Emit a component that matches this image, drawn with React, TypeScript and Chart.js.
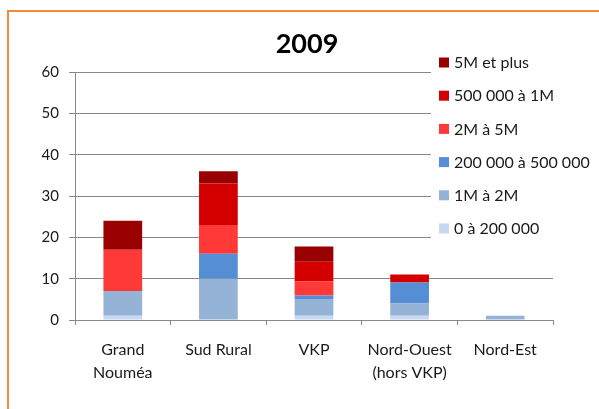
import React, { useEffect, useRef } from "react";
import { Chart, registerables } from "chart.js";

Chart.register(...registerables);

const TITLE = "2009";
const categories: (string | string[])[] = [
  ["Grand", "Nouméa"],
  "Sud Rural",
  "VKP",
  ["Nord-Ouest", "(hors VKP)"],
  "Nord-Est",
];
const seriesLabels = [
  "0 à 200 000",
  "1M à 2M",
  "200 000 à 500 000",
  "2M à 5M",
  "500 000 à 1M",
  "5M et plus",
];
const v0to200k = [1, 0, 1, 1, 0];
const v1Mto2M = [6, 10, 4.1, 3, 1];
const v200kto500k = [0, 6, 0.8, 5.1, 0];
const v2Mto5M = [10, 7, 3.4, 0, 0];
const v500kto1M = [0, 10, 4.8, 1.9, 0];
const v5Mplus = [7, 3, 3.7, 0, 0];
const yTicks = [0, 10, 20, 30, 40, 50, 60];

const colors = ["#c6d9f1", "#95b3d7", "#558ed5", "#ff3838", "#d40000", "#990000"];
const FONT = "Lato, 'Open Sans', sans-serif";

const overlayPlugin = {
  id: "overlay",
  afterDraw(chart: any) {
    const ctx = chart.ctx;
    ctx.save();
    // title
    ctx.fillStyle = "#000";
    ctx.font = `bold 27px ${FONT}`;
    ctx.textAlign = "center";
    ctx.textBaseline = "middle";
    ctx.fillText(TITLE, 307, 44);
    // legend background
    ctx.fillStyle = "#fff";
    ctx.fillRect(431, 46, 168, 198);
    const ds = chart.data.datasets.slice().reverse();
    ctx.font = `16px ${FONT}`;
    ctx.textAlign = "left";
    ds.forEach((d: any, i: number) => {
      const cy = 62.5 + i * 33.2;
      ctx.fillStyle = d.backgroundColor;
      ctx.fillRect(439, cy - 5, 10, 10);
      ctx.fillStyle = "#1a1a1a";
      ctx.fillText(d.label, 454, cy + 0.5);
    });
    ctx.restore();
  },
};

export default function App() {
  const ref = useRef<HTMLCanvasElement>(null);
  useEffect(() => {
    if (!ref.current) return;
    const values = [v0to200k, v1Mto2M, v200kto500k, v2Mto5M, v500kto1M, v5Mplus];
    const chart = new Chart(ref.current, {
      type: "bar",
      data: {
        labels: categories,
        datasets: values.map((vals, i) => ({
          label: seriesLabels[i],
          data: vals,
          backgroundColor: colors[i],
          borderWidth: 0,
          barPercentage: 0.405,
          categoryPercentage: 1,
        })),
      },
      options: {
        responsive: false,
        animation: false,
        layout: { padding: { left: 0, top: 72, right: 46, bottom: 9 } },
        plugins: {
          legend: { display: false },
          title: { display: false },
          tooltip: { enabled: false },
        },
        scales: {
          x: {
            stacked: true,
            afterFit: (s: any) => {
              s.height = 80;
            },
            grid: {
              offset: true,
              drawOnChartArea: false,
              drawTicks: true,
              tickLength: 5,
              color: "#888",
            },
            border: { display: true, color: "#888", width: 1 },
            ticks: {
              color: "#1a1a1a",
              font: { family: FONT, size: 16, lineHeight: 1.45 },
              padding: 13,
              maxRotation: 0,
              autoSkip: false,
            },
          },
          y: {
            stacked: true,
            min: 0,
            max: 60,
            afterFit: (s: any) => {
              s.width = 75;
            },
            afterBuildTicks: (s: any) => {
              s.ticks = yTicks.map((v) => ({ value: v }));
            },
            grid: { color: "#888", tickLength: 6, drawTicks: true },
            border: { display: true, color: "#888", width: 1 },
            ticks: {
              color: "#1a1a1a",
              font: { family: FONT, size: 15 },
              padding: 10,
            },
          },
        },
      },
      plugins: [overlayPlugin],
    });
    return () => chart.destroy();
  }, []);
  return (
    <div>
      <div
        style={{
          position: "fixed",
          left: 0,
          top: 0,
          width: 599,
          height: 409,
          background: "#fff",
        }}
      >
        <canvas ref={ref} width={599} height={409} />
      </div>
      <div
        style={{
          position: "fixed",
          left: 7,
          top: 10,
          width: 800,
          height: 600,
          border: "2px solid #f28c38",
          pointerEvents: "none",
        }}
      />
    </div>
  );
}
